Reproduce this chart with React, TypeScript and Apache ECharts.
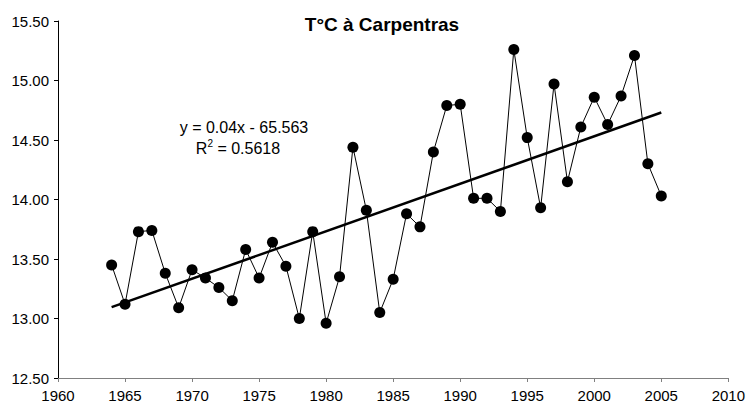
import React, { useEffect, useRef } from "react";
import * as echarts from "echarts";

const years: number[] = [
  1964, 1965, 1966, 1967, 1968, 1969, 1970, 1971, 1972, 1973, 1974, 1975, 1976, 1977,
  1978, 1979, 1980, 1981, 1982, 1983, 1984, 1985, 1986, 1987, 1988, 1989, 1990, 1991,
  1992, 1993, 1994, 1995, 1996, 1997, 1998, 1999, 2000, 2001, 2002, 2003, 2004, 2005,
];
const temps: number[] = [
  13.45, 13.12, 13.73, 13.74, 13.38, 13.09, 13.41, 13.34, 13.26, 13.15, 13.58, 13.34, 13.64, 13.44,
  13.0, 13.73, 12.96, 13.35, 14.44, 13.91, 13.05, 13.33, 13.88, 13.77, 14.4, 14.79, 14.8, 14.01,
  14.01, 13.9, 15.26, 14.52, 13.93, 14.97, 14.15, 14.61, 14.86, 14.63, 14.87, 15.21, 14.3, 14.03,
];
const titleText = "T°C à Carpentras";
const equationText = "y = 0.04x - 65.563";
const r2Value = "0.5618";

function regression(xs: number[], ys: number[]) {
  const n = xs.length;
  const mx = xs.reduce((a, b) => a + b, 0) / n;
  const my = ys.reduce((a, b) => a + b, 0) / n;
  let sxy = 0;
  let sxx = 0;
  for (let i = 0; i < n; i++) {
    sxy += (xs[i] - mx) * (ys[i] - my);
    sxx += (xs[i] - mx) * (xs[i] - mx);
  }
  const slope = sxy / sxx;
  return { slope, intercept: my - slope * mx };
}

export default function App() {
  const ref = useRef<HTMLDivElement>(null);
  useEffect(() => {
    if (!ref.current) return;
    const chart = echarts.init(ref.current, undefined, { renderer: "svg" });
    const { slope, intercept } = regression(years, temps);
    const x0 = years[0];
    const x1 = years[years.length - 1];
    const font = "Arial, 'Liberation Sans', sans-serif";
    chart.setOption({
      animation: false,
      backgroundColor: "#ffffff",
      grid: { left: 58, right: 17, top: 21, bottom: 27 },
      xAxis: {
        type: "value",
        min: 1960,
        max: 2010,
        interval: 5,
        axisLine: { lineStyle: { color: "#808080", width: 1 } },
        axisTick: { show: true, inside: false, length: 4, lineStyle: { color: "#808080" } },
        splitLine: { show: false },
        axisLabel: {
          color: "#000",
          fontSize: 15,
          fontFamily: font,
          margin: 10,
          formatter: (v: number) => String(v),
        },
      },
      yAxis: {
        type: "value",
        min: 12.5,
        max: 15.5,
        interval: 0.5,
        axisLine: { show: true, lineStyle: { color: "#000", width: 1 } },
        axisTick: { show: true, inside: false, length: 4, lineStyle: { color: "#000" } },
        splitLine: { show: false },
        axisLabel: {
          color: "#000",
          fontSize: 15,
          fontFamily: font,
          margin: 9,
          formatter: (v: number) => v.toFixed(2),
        },
      },
      series: [
        {
          type: "line",
          data: years.map((y, i) => [y, temps[i]]),
          symbol: "circle",
          symbolSize: 11,
          itemStyle: { color: "#000" },
          lineStyle: { color: "#000", width: 1 },
          z: 3,
        },
        {
          type: "line",
          data: [
            [x0, slope * x0 + intercept],
            [x1, slope * x1 + intercept],
          ],
          symbol: "none",
          lineStyle: { color: "#000", width: 2.5 },
          z: 2,
        },
      ],
      graphic: [
        {
          type: "text",
          x: 382,
          y: 24,
          style: {
            text: titleText,
            fontSize: 19,
            fontWeight: "bold",
            fontFamily: font,
            fill: "#000",
            align: "center",
            verticalAlign: "middle",
          },
        },
        {
          type: "text",
          x: 244,
          y: 127,
          style: {
            text: equationText,
            fontSize: 16,
            fontFamily: font,
            fill: "#000",
            align: "center",
            verticalAlign: "middle",
          },
        },
        {
          type: "text",
          x: 238,
          y: 147,
          style: {
            text: "{b|R}{s|2}{b| = " + r2Value + "}",
            fontFamily: font,
            fill: "#000",
            align: "center",
            verticalAlign: "middle",
            rich: {
              b: { fontSize: 16, fontFamily: font, fill: "#000", verticalAlign: "bottom", lineHeight: 18 },
              s: { fontSize: 10, fontFamily: font, fill: "#000", verticalAlign: "top", lineHeight: 18 },
            },
          },
        },
      ],
    });
    return () => chart.dispose();
  }, []);
  return (
    <div
      ref={ref}
      style={{ position: "absolute", left: 0, top: 0, width: 748, height: 405 }}
    />
  );
}
